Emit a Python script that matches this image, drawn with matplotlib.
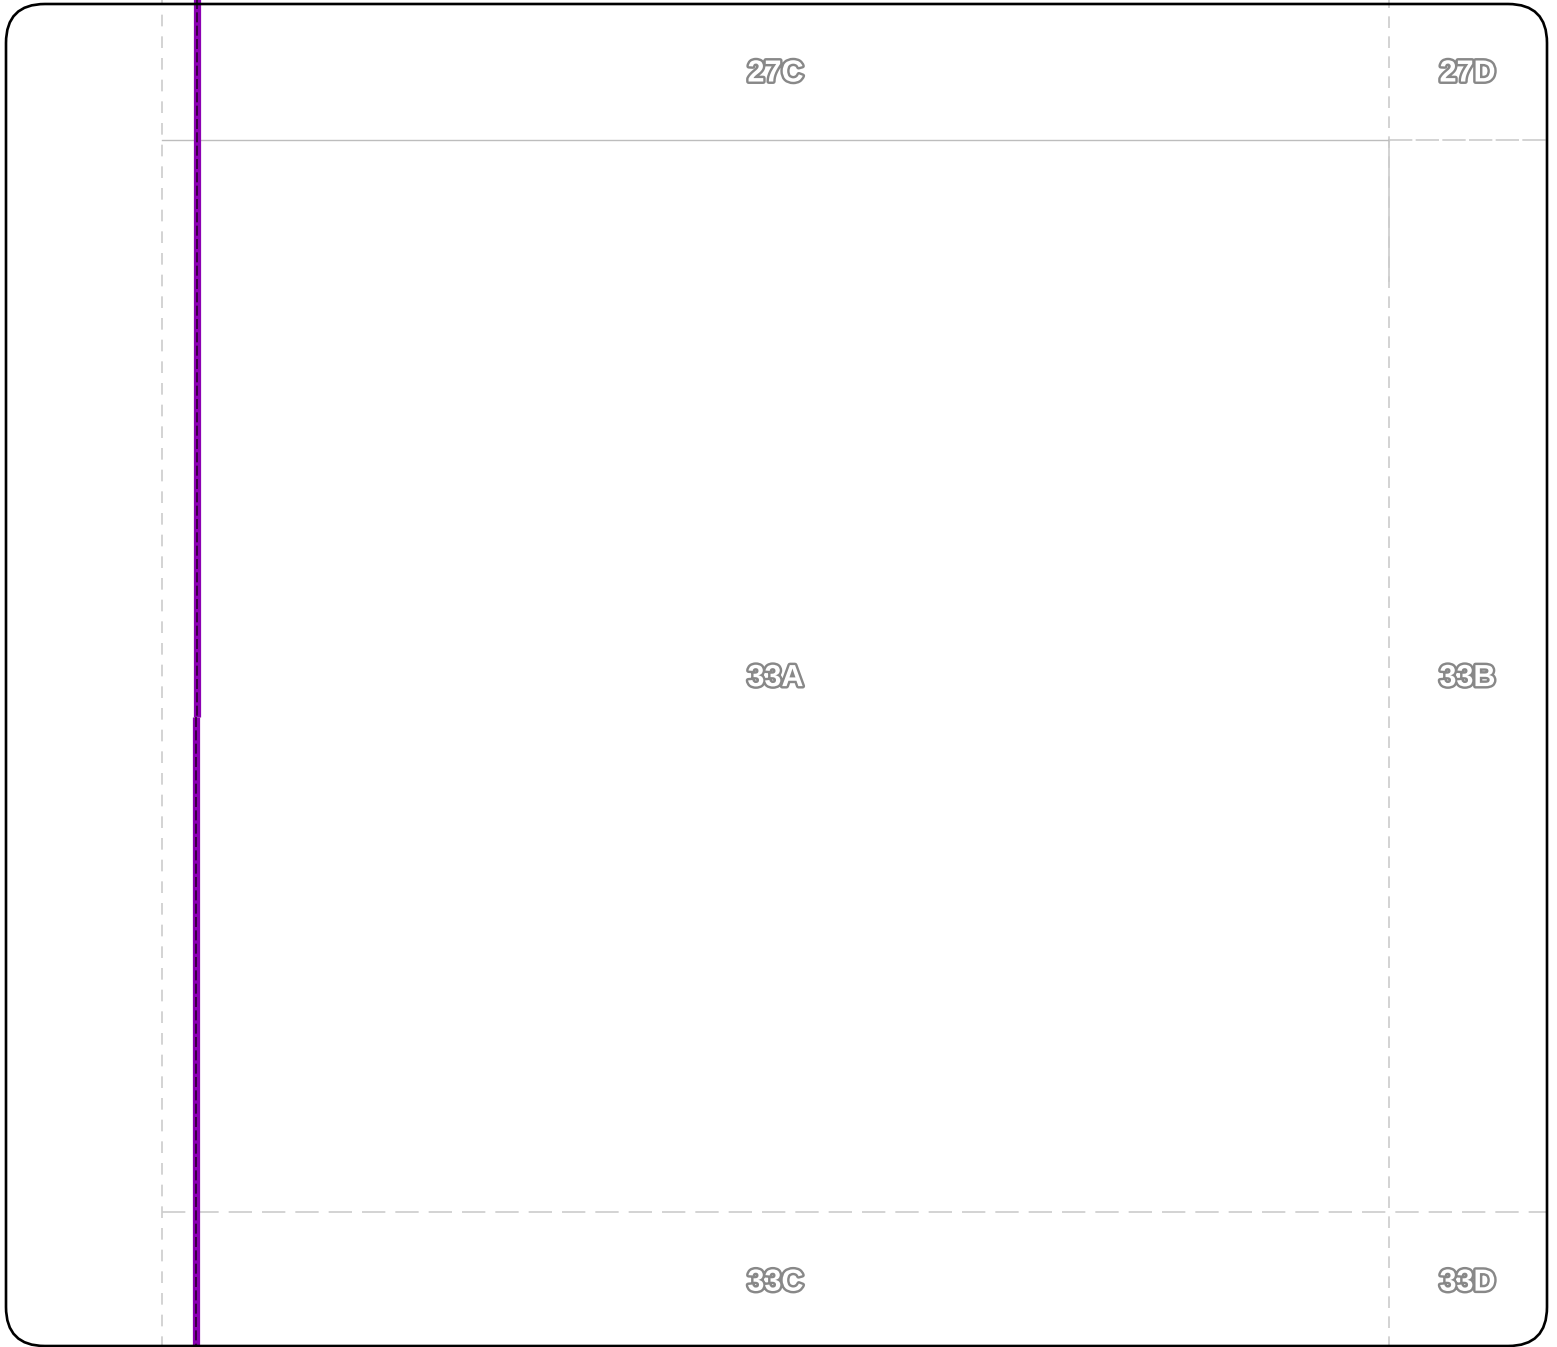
import matplotlib.pyplot as plt
import matplotlib.patheffects as pe
from matplotlib.patches import FancyBboxPatch

# grid of rectangles (lon / lat)
grid_lons = [9.0, 10.0]
grid_lats = [56.5, 56.0]

# rectangle labels and their positions
labels = ["27C", "27D", "33A", "33B", "33C", "33D"]
label_lons = [9.5, 10.064, 9.5, 10.064, 9.5, 10.064]
label_lats = [56.531, 56.531, 56.249, 56.249, 55.967, 55.967]

# route (two pieces, slight offset at the break)
route_upper_lon = [9.0285, 9.0285]
route_upper_lat = [56.566, 56.231]
route_lower_lon = [9.0277, 9.0277]
route_lower_lat = [56.231, 55.936]

fig = plt.figure(figsize=(15.57, 13.47), dpi=100)
ax = fig.add_axes([0, 0, 1, 1])
ax.set_xlim(8.868, 10.137)
ax.set_ylim(55.937, 56.5653)
ax.axis("off")

grey = "#cccccc"
# vertical grid lines
ax.plot([grid_lons[0]] * 2, [55.9, 56.6], color=grey, lw=1.2, dashes=(7, 6))
ax.plot([grid_lons[1]] * 2, [55.9, 56.6], color=grey, lw=1.2, dashes=(7, 5))
ax.plot([grid_lons[1]] * 2, [56.5, 56.434], color=grey, lw=1.2)
# horizontal grid lines
ax.plot([grid_lons[0], grid_lons[1]], [grid_lats[0]] * 2, color="#bdbdbd", lw=1.0)
ax.plot([grid_lons[1], 10.13], [grid_lats[0]] * 2, color=grey, lw=1.2, dashes=(14, 2))
ax.plot([grid_lons[0], 10.13], [grid_lats[1]] * 2, color=grey, lw=1.2, dashes=(14, 6))

# route
for lo, la in [(route_upper_lon, route_upper_lat), (route_lower_lon, route_lower_lat)]:
    ax.plot(lo, la, color="#8b00b3", lw=5.2, solid_capstyle="butt")
    ax.plot(lo, la, color="#2a0030", lw=1.2, dashes=(6, 2))

# labels (outlined)
for t, x, y in zip(labels, label_lons, label_lats):
    ax.text(x, y, t, ha="center", va="center", fontsize=22, fontweight="bold",
            family="Liberation Sans", color="white",
            path_effects=[pe.withStroke(linewidth=3.5, foreground="#888888")])

# rounded frame
frame = FancyBboxPatch((6 / 1557, 1 / 1347), 1541 / 1557, 1342 / 1347,
                       boxstyle="round,pad=0,rounding_size=0.025",
                       transform=fig.transFigure, fill=False,
                       edgecolor="black", lw=1.9, mutation_aspect=1557 / 1347)
fig.patches.append(frame)

plt.savefig("out.png", dpi=100)
